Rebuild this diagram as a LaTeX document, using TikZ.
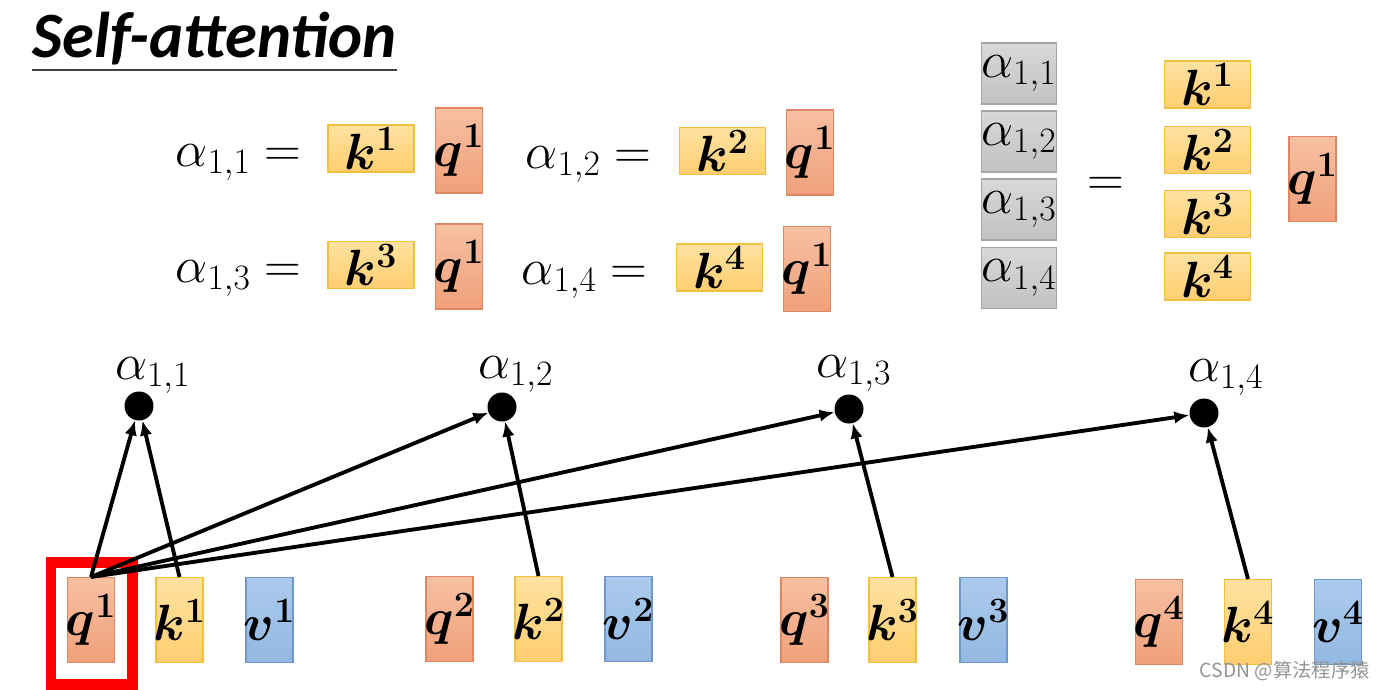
\RequirePackage{fix-cm}
\documentclass[tikz,border=0pt]{standalone}
\usepackage{amsmath}
\usepackage{fontspec}
\newfontfamily\titolofont{Carlito}
\newfontfamily\cjkfont{Noto Sans CJK SC}
\usetikzlibrary{arrows.meta}

\definecolor{qchiaro}{RGB}{247,192,162}
\definecolor{qscuro}{RGB}{240,160,122}
\definecolor{qbordo}{RGB}{222,135,98}
\definecolor{kchiaro}{RGB}{255,226,160}
\definecolor{kscuro}{RGB}{255,206,112}
\definecolor{kbordo}{RGB}{242,192,62}
\definecolor{vchiaro}{RGB}{172,202,236}
\definecolor{vscuro}{RGB}{146,184,226}
\definecolor{vbordo}{RGB}{112,152,202}
\definecolor{achiaro}{RGB}{216,216,216}
\definecolor{ascuro}{RGB}{194,194,194}
\definecolor{abordo}{RGB}{165,165,165}

\newcommand{\bv}[2]{$\boldsymbol{#1^{#2}}$}

\begin{document}
\begin{tikzpicture}[x=0.02cm,y=-0.02cm,
    qcella/.style={draw=qbordo,top color=qchiaro,bottom color=qscuro,line width=0.6pt,
      minimum width=0.94cm,minimum height=1.7cm,inner ysep=0pt,inner xsep=-0.1cm},
    kcella/.style={qcella,draw=kbordo,top color=kchiaro,bottom color=kscuro},
    vcella/.style={qcella,draw=vbordo,top color=vchiaro,bottom color=vscuro},
    kriga/.style={kcella,minimum width=1.72cm,minimum height=0.94cm},
    acella/.style={draw=abordo,top color=achiaro,bottom color=ascuro,line width=0.6pt,
      minimum width=1.44cm,minimum height=1.22cm,inner sep=0pt},
    punto/.style={circle,fill,inner sep=0pt,minimum size=0.58cm},
    freccia/.style={line width=2.2pt,-{Latex[length=3mm,width=2.5mm]}},
    eq/.style={inner sep=0pt,anchor=base east},
    etich/.style={inner sep=0pt,anchor=base west},
    cornice/.style={draw=red,line width=0.22cm}]
  \fontsize{29}{34}\selectfont
  \useasboundingbox (0,0) rectangle (1387,690);

  % ---- titolo --------------------------------------------------------------
  \node[anchor=base west,inner sep=0pt,font=\titolofont\bfseries\itshape\fontsize{36.8}{40}\selectfont]
    (titolo) at (32,57) {Self-attention};
  \draw[line width=1.1pt,black!75] ([yshift=-0.1cm]titolo.south west) -- ([yshift=-0.1cm]titolo.south east);

  % ---- equazioni -----------------------------------------------------------
  \node[eq]     (e11) at (302,166)   {$\alpha_{1,1} =$};
  \node[kriga]  (k1a) at (371,148.5) {\bv{k}{1}};
  \node[qcella] (q1a) at (459,150.5) {\bv{q}{1}};
  \node[eq]     (e12) at (652,168)   {$\alpha_{1,2} =$};
  \node[kriga]  (k2a) at (722.5,151) {\bv{k}{2}};
  \node[qcella] (q1b) at (810,152.5) {\bv{q}{1}};
  \node[eq]     (e13) at (302,282)   {$\alpha_{1,3} =$};
  \node[kriga]  (k3a) at (371,265)   {\bv{k}{3}};
  \node[qcella] (q1c) at (459,266.5) {\bv{q}{1}};
  \node[eq]     (e14) at (648,284)   {$\alpha_{1,4} =$};
  \node[kriga]  (k4a) at (719.5,267.5) {\bv{k}{4}};
  \node[qcella] (q1d) at (807,269)   {\bv{q}{1}};

  % ---- forma matriciale ----------------------------------------------------
  \node[acella] (m1) at (1019,73.5)  {$\alpha_{1,1}$};
  \node[acella] (m2) at (1019,141.5) {$\alpha_{1,2}$};
  \node[acella] (m3) at (1019,209.5) {$\alpha_{1,3}$};
  \node[acella] (m4) at (1019,278)   {$\alpha_{1,4}$};
  \node (uguale) at (1106,186) {$=$};
  \node[kriga]  (mk1) at (1207.5,84.5) {\bv{k}{1}};
  \node[kriga]  (mk2) at (1207.5,150)  {\bv{k}{2}};
  \node[kriga]  (mk3) at (1207.5,214)  {\bv{k}{3}};
  \node[kriga]  (mk4) at (1207.5,276.5) {\bv{k}{4}};
  \node[qcella] (mq1) at (1312.5,179)  {\bv{q}{1}};

  % ---- vettori q k v -------------------------------------------------------
  \node[qcella] (q1) at (91,620)     {\bv{q}{1}};
  \node[kcella] (k1) at (179.5,620)  {\bv{k}{1}};
  \node[vcella] (v1) at (269.5,620)  {\bv{v}{1}};
  \node[qcella] (q2) at (449.5,619)  {\bv{q}{2}};
  \node[kcella] (k2) at (538.5,619)  {\bv{k}{2}};
  \node[vcella] (v2) at (628.5,619)  {\bv{v}{2}};
  \node[qcella] (q3) at (804.5,620)  {\bv{q}{3}};
  \node[kcella] (k3) at (892.5,620)  {\bv{k}{3}};
  \node[vcella] (v3) at (983.5,620)  {\bv{v}{3}};
  \node[qcella] (q4) at (1159,622)   {\bv{q}{4}};
  \node[kcella] (k4) at (1248,622)   {\bv{k}{4}};
  \node[vcella] (v4) at (1338,622)   {\bv{v}{4}};

  \draw[cornice] ([shift={(-40,-58)}]q1.center) rectangle ([shift={(41,64)}]q1.center);

  % ---- punteggi --------------------------------------------------------------
  \node[punto] (a1) at (139,406)  {};
  \node[punto] (a2) at (502,407)  {};
  \node[punto] (a3) at (849,409)  {};
  \node[punto] (a4) at (1204,413) {};
  \node[etich] at ([shift={(-24,-27)}]a1.center) {$\alpha_{1,1}$};
  \node[etich] at ([shift={(-24,-29)}]a2.center) {$\alpha_{1,2}$};
  \node[etich] at ([shift={(-33,-32)}]a3.center) {$\alpha_{1,3}$};
  \node[etich] at ([shift={(-16,-32)}]a4.center) {$\alpha_{1,4}$};

  % ---- frecce ----------------------------------------------------------------
  \draw[freccia] (q1.north) -- (a1);
  \draw[freccia] (k1.north) -- (a1);
  \draw[freccia] (q1.north) -- (a2);
  \draw[freccia] (q1.north) -- (a3);
  \draw[freccia] (q1.north) -- (a4);
  \draw[freccia] (k2.north) -- (a2);
  \draw[freccia] (k3.north) -- (a3);
  \draw[freccia] (k4.north) -- (a4);

  % ---- filigrana -------------------------------------------------------------
  \node[anchor=base east,inner sep=0pt,text=black!42,font=\cjkfont\fontsize{11}{13}\selectfont]
    (firma) at (1370,677) {CSDN @算法程序猿};
\end{tikzpicture}
\end{document}
